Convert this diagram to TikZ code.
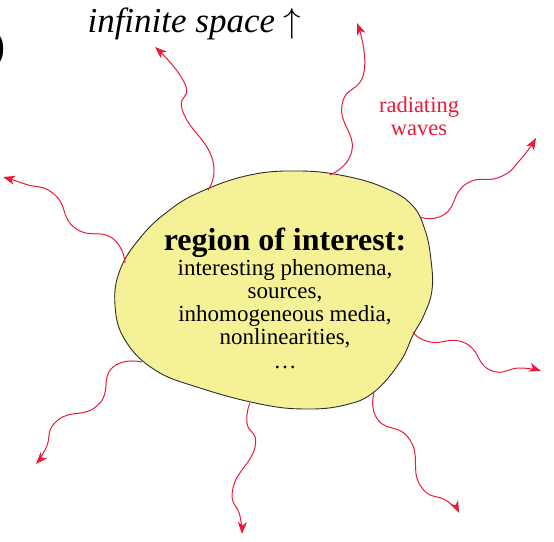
\documentclass[tikz,border=0pt]{standalone}
\usepackage{fontspec}
\setmainfont{Liberation Serif}
\DeclareFontShape{OMS}{cmsy}{m}{n}{<->cmsy10}{}
\usetikzlibrary{arrows.meta}
\definecolor{blobyellow}{RGB}{245,241,151}
\definecolor{blobline}{RGB}{45,45,45}
\definecolor{wavered}{RGB}{232,28,58}
\tikzset{
  wave/.style={wavered, line width=1pt,
    -{Stealth[length=12pt,width=9pt,inset=3.5pt]}},
}
\begin{document}
\begin{tikzpicture}[x=1pt,y=-1pt]
\useasboundingbox (0,0) rectangle (554,541);
% the region of interest
\draw[blobline, line width=0.9pt, fill=blobyellow] plot[smooth cycle, tension=0.7] coordinates {
  (200,192) (250,175) (300,171) (345,176) (385,188) (412,205) (425,230)
  (431,260) (432,290) (424,315) (413,335) (400,362) (374,392) (345,405)
  (305,409) (260,404) (200,388) (155,370) (125,340) (115,305) (120,270)
  (140,238) (167,212)};
\node[font=\fontsize{32}{34}\selectfont\bfseries, anchor=base] (title) at (285,250) {region of interest:};
\foreach \txt [count=\i] in {{interesting phenomena,},{sources,},{inhomogeneous media,},{nonlinearities,},{\dots}}
  \node[font=\fontsize{23}{24}\selectfont, anchor=base] (line\i) at (285,{251.75+23.25*\i}) {\txt};
% labels outside
\node[anchor=base west, font=\fontsize{35}{38}\selectfont\itshape] (space) at (84,32) {infinite space $\uparrow$};
\node[wavered, align=center, font=\fontsize{22.5}{23}\selectfont] (radiating) at (419,116) {radiating\\waves};
\node[anchor=east, inner sep=0pt, font=\fontsize{42}{42}\selectfont] (tag) at (6,49) {)};
% where the waves leave the region, and where they go
\coordinate (src1) at (208,190); \coordinate (far1) at (155,47);
\coordinate (src2) at (330,175); \coordinate (far2) at (357,23);
\coordinate (src3) at (420,217); \coordinate (far3) at (536,138);
\coordinate (src4) at (125,263); \coordinate (far4) at (3,177);
\coordinate (src5) at (413,332); \coordinate (far5) at (541,371);
\coordinate (src6) at (374,393); \coordinate (far6) at (459,513);
\coordinate (src7) at (250,403); \coordinate (far7) at (242,534);
\coordinate (src8) at (142,362); \coordinate (far8) at (36,464);
% the waves
\draw[wave] plot[smooth, tension=0.9] coordinates {(src1) (212,158) (183,112) (185,84) (far1)};
\draw[wave] plot[smooth, tension=0.9] coordinates {(src2) (352,150) (342,105) (364,72) (far2)};
\draw[wave] plot[smooth, tension=0.9] coordinates {(src3) (445,214) (466,184) (500,177) (520,160) (far3)};
\draw[wave] plot[smooth, tension=0.9] coordinates {(src4) (112,238) (75,228) (55,195) (25,184) (far4)};
\draw[wave] plot[smooth, tension=0.9] coordinates {(src5) (430,342) (465,343) (490,370) (520,368) (far5)};
\draw[wave] plot[smooth, tension=0.9] coordinates {(src6) (378,420) (410,440) (420,485) (447,501) (far6)};
\draw[wave] plot[smooth, tension=0.9] coordinates {(src7) (247,423) (255,447) (233,488) (240,516) (far7)};
\draw[wave] plot[smooth, tension=0.9] coordinates {(src8) (112,368) (98,405) (58,420) (46,448) (far8)};
\end{tikzpicture}
\end{document}
